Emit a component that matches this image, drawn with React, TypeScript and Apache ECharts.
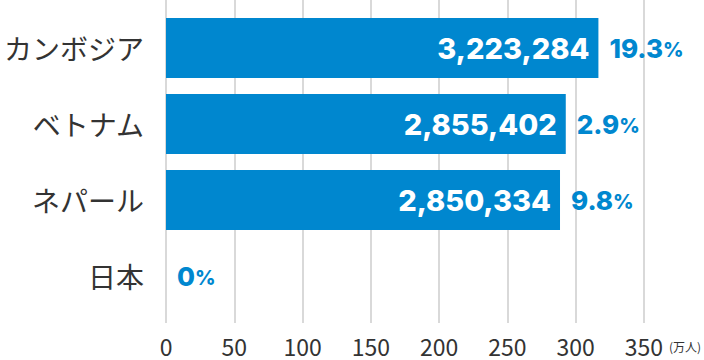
import React, { useEffect, useRef } from "react";
import * as echarts from "echarts";

const categories = ["カンボジア", "ベトナム", "ネパール", "日本"];
// bar lengths (万人) as drawn in the picture
const barValues = [315.3, 291.5, 287.3, 0];
const valueLabels = ["3,223,284", "2,855,402", "2,850,334", ""];
const changeLabels = ["19.3", "2.9", "9.8", "0"];
const axisMin = 0;
const axisMax = 350;
const axisInterval = 50;
const unitLabel = "(万人)";

const BLUE = "#0087cf";
const TEXT = "#333333";
const NUM_FONT = "Inter, 'Open Sans', sans-serif";
const JP_FONT = "'Noto Sans CJK JP', 'Noto Sans', sans-serif";

export default function App() {
  const ref = useRef<HTMLDivElement>(null);
  useEffect(() => {
    if (!ref.current) return;
    const chart = echarts.init(ref.current, undefined, { renderer: "svg" });
    chart.setOption({
      animation: false,
      backgroundColor: "#ffffff",
      grid: [
        { left: 166, right: 58, top: 0, height: 323 },
        { left: 166, right: 58, top: 10, height: 304 },
      ],
      xAxis: [
        {
          gridIndex: 0,
          type: "value",
          min: axisMin,
          max: axisMax,
          interval: axisInterval,
          axisLine: { show: false },
          axisTick: { show: false },
          splitLine: { show: true, lineStyle: { color: "#d9d9d9", width: 2 } },
          axisLabel: {
            color: TEXT,
            fontSize: 23,
            lineHeight: 22,
            margin: 12,
            fontFamily: JP_FONT,
          },
          name: unitLabel,
          nameLocation: "end",
          nameGap: 24,
          nameTextStyle: {
            color: TEXT,
            fontSize: 12,
            fontFamily: JP_FONT,
            align: "left",
            verticalAlign: "top",
            padding: [17, 0, 0, 0],
          },
        },
        {
          gridIndex: 1,
          type: "value",
          min: axisMin,
          max: axisMax,
          show: false,
          splitLine: { show: false },
        },
      ],
      yAxis: [
        {
          gridIndex: 1,
          type: "category",
          data: categories,
          inverse: true,
          axisLine: { show: false },
          axisTick: { show: false },
          splitLine: { show: false },
          axisLabel: {
            color: TEXT,
            fontSize: 28,
            margin: 22,
            fontFamily: JP_FONT,
          },
        },
        {
          gridIndex: 0,
          type: "value",
          show: false,
          splitLine: { show: false },
        },
      ],
      series: [
        {
          type: "bar",
          xAxisIndex: 1,
          yAxisIndex: 0,
          data: barValues,
          barWidth: 60,
          itemStyle: { color: BLUE },
          label: {
            show: true,
            position: "insideRight",
            distance: 9,
            color: "#ffffff",
            fontSize: 29,
            fontWeight: 800,
            fontFamily: NUM_FONT,
            formatter: (p: any) => valueLabels[p.dataIndex],
          },
        },
        {
          type: "bar",
          xAxisIndex: 1,
          yAxisIndex: 0,
          data: barValues,
          barWidth: 60,
          barGap: "-100%",
          itemStyle: { color: "rgba(0,0,0,0)" },
          label: {
            show: true,
            position: "right",
            distance: 11,
            formatter: (p: any) => `{n|${changeLabels[p.dataIndex]}}{p|%}`,
            rich: {
              n: {
                color: BLUE,
                fontSize: 26,
                fontWeight: 800,
                fontFamily: NUM_FONT,
              },
              p: {
                color: BLUE,
                fontSize: 20,
                fontWeight: 800,
                fontFamily: NUM_FONT,
                padding: [3, 0, 0, 0],
              },
            },
          },
        },
      ],
    });
    return () => chart.dispose();
  }, []);
  return (
    <div
      ref={ref}
      style={{ position: "fixed", left: 0, top: 0, width: 704, height: 360 }}
    />
  );
}
